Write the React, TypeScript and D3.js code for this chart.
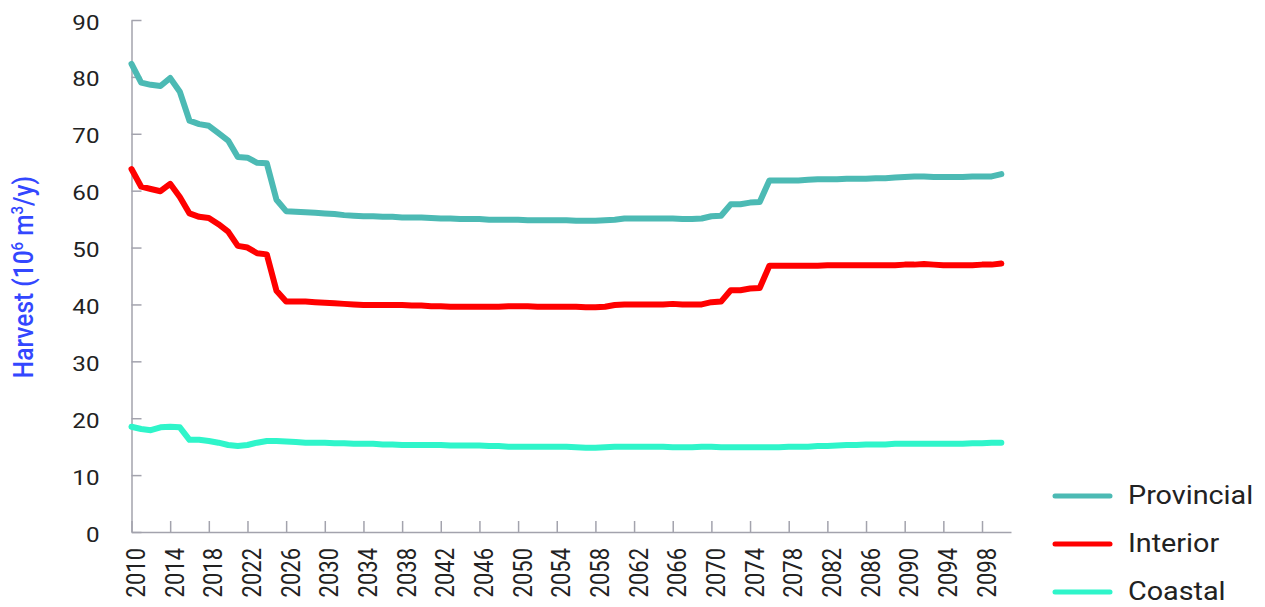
import * as d3 from "d3";
import React, { useRef, useEffect } from "react";

const width = 1265;
const height = 607;
const margin = { top: 20, right: 254, bottom: 75, left: 131.5 };

// years on the category axis
const years = d3.range(2010, 2101);
const xTickYears = d3.range(2010, 2100, 4);
const yTicks = [0, 10, 20, 30, 40, 50, 60, 70, 80, 90];

// harvest, 10^6 m3/y, one value per year 2010..2100
const provincial = [
  82.3, 79.0, 78.6, 78.4, 79.8, 77.4, 72.3, 71.7, 71.4, 70.1,
  68.8, 65.9, 65.8, 64.9, 64.8, 58.4, 56.4, 56.3, 56.2, 56.1,
  56.0, 55.9, 55.7, 55.6, 55.5, 55.5, 55.4, 55.4, 55.3, 55.3,
  55.3, 55.2, 55.1, 55.1, 55.0, 55.0, 55.0, 54.9, 54.9, 54.9,
  54.9, 54.8, 54.8, 54.8, 54.8, 54.8, 54.7, 54.7, 54.7, 54.8,
  54.9, 55.1, 55.1, 55.1, 55.1, 55.1, 55.1, 55.0, 55.0, 55.1,
  55.5, 55.6, 57.6, 57.6, 57.9, 58.0, 61.8, 61.8, 61.8, 61.8,
  61.9, 62.0, 62.0, 62.0, 62.1, 62.1, 62.1, 62.2, 62.2, 62.3,
  62.4, 62.5, 62.5, 62.4, 62.4, 62.4, 62.4, 62.5, 62.5, 62.5,
  62.9,
];
const interior = [
  63.8, 60.7, 60.3, 59.9, 61.2, 58.9, 56.0, 55.4, 55.2, 54.1,
  52.8, 50.3, 50.0, 49.0, 48.8, 42.4, 40.5, 40.5, 40.5, 40.4,
  40.3, 40.2, 40.1, 40.0, 39.9, 39.9, 39.9, 39.9, 39.9, 39.8,
  39.8, 39.7, 39.7, 39.6, 39.6, 39.6, 39.6, 39.6, 39.6, 39.7,
  39.7, 39.7, 39.6, 39.6, 39.6, 39.6, 39.6, 39.5, 39.5, 39.6,
  39.9, 40.0, 40.0, 40.0, 40.0, 40.0, 40.1, 40.0, 40.0, 40.0,
  40.4, 40.5, 42.5, 42.5, 42.8, 42.9, 46.8, 46.8, 46.8, 46.8,
  46.8, 46.8, 46.9, 46.9, 46.9, 46.9, 46.9, 46.9, 46.9, 46.9,
  47.0, 47.0, 47.1, 47.0, 46.9, 46.9, 46.9, 46.9, 47.0, 47.0,
  47.2,
];
const coastal = [
  18.5, 18.1, 17.9, 18.4, 18.5, 18.4, 16.2, 16.2, 16.0, 15.7,
  15.3, 15.1, 15.3, 15.7, 16.0, 16.0, 15.9, 15.8, 15.7, 15.7,
  15.7, 15.6, 15.6, 15.5, 15.5, 15.5, 15.4, 15.4, 15.3, 15.3,
  15.3, 15.3, 15.3, 15.2, 15.2, 15.2, 15.2, 15.1, 15.1, 15.0,
  15.0, 15.0, 15.0, 15.0, 15.0, 15.0, 14.9, 14.8, 14.8, 14.9,
  15.0, 15.0, 15.0, 15.0, 15.0, 15.0, 14.9, 14.9, 14.9, 15.0,
  15.0, 14.9, 14.9, 14.9, 14.9, 14.9, 14.9, 14.9, 15.0, 15.0,
  15.0, 15.1, 15.1, 15.2, 15.3, 15.3, 15.4, 15.4, 15.4, 15.5,
  15.5, 15.5, 15.5, 15.5, 15.5, 15.5, 15.5, 15.6, 15.6, 15.7,
  15.7,
];

const seriesNames = ["Provincial", "Interior", "Coastal"];
const seriesValues = [provincial, interior, coastal];
const seriesColors = ["#4cbab4", "#ff0000", "#2ff5ca"];

const font = "Roboto, 'Noto Sans', sans-serif";
const axisColor = "#a3a3ad";
const textColor = "#222222";
const stretch = 1.15; // text in the picture is a bit wide

const HarvestChart = () => {
  const svgRef = useRef<SVGSVGElement>(null);

  const xScale = d3
    .scaleLinear()
    .domain([2010, 2101])
    .range([margin.left, 1011]);
  const yScale = d3
    .scaleLinear()
    .domain([0, 90])
    .range([height - margin.bottom, margin.top]);

  useEffect(() => {
    if (!svgRef.current) return;
    const svg = d3.select(svgRef.current);
    svg.selectAll("*").remove();

    // y axis, ticks pointing in
    const yAxis = d3
      .axisLeft(yScale)
      .tickValues(yTicks)
      .tickSize(-10)
      .tickSizeOuter(0)
      .tickPadding(32);
    const gy = svg
      .append("g")
      .attr("transform", `translate(${margin.left},0)`)
      .call(yAxis);
    gy.select(".domain").attr("stroke", axisColor).attr("stroke-width", 1.5);
    gy.selectAll(".tick line").attr("stroke", axisColor).attr("stroke-width", 1.5);
    gy.selectAll(".tick text")
      .attr("fill", textColor)
      .style("font-family", font)
      .style("font-size", "21px")
      .attr("x", null)
      .attr("dy", null)
      .attr("transform", `translate(-32, 9) scale(${stretch}, 1)`);

    // x axis with rotated year labels
    const xAxis = d3
      .axisBottom(xScale)
      .tickValues(xTickYears)
      .tickSize(-11)
      .tickSizeOuter(0)
      .tickFormat(d3.format("d"));
    const gx = svg
      .append("g")
      .attr("transform", `translate(0,${height - margin.bottom})`)
      .call(xAxis);
    gx.select(".domain").attr("stroke", axisColor).attr("stroke-width", 1.5);
    gx.selectAll(".tick line").attr("stroke", axisColor).attr("stroke-width", 1.5);
    gx.selectAll(".tick text")
      .attr("fill", textColor)
      .style("font-family", font)
      .style("font-size", "22px")
      .attr("text-anchor", "end")
      .attr("x", 0)
      .attr("y", 0)
      .attr("dy", "0.36em")
      .attr("transform", `translate(4, 16) rotate(-90) scale(1, ${stretch})`);

    // y axis title
    const title = svg
      .append("text")
      .attr("transform", `translate(33, 277) rotate(-90) scale(1, ${stretch})`)
      .attr("text-anchor", "middle")
      .attr("fill", "#3347ff")
      .style("font-family", font)
      .style("font-size", "24.5px")
      .style("font-weight", 500);
    title.append("tspan").text("Harvest (10");
    title.append("tspan").text("6").attr("dy", -9).style("font-size", "15px");
    title.append("tspan").text(" m").attr("dy", 9);
    title.append("tspan").text("3").attr("dy", -9).style("font-size", "15px");
    title.append("tspan").text("/y)").attr("dy", 9);

    // lines
    const line = d3
      .line<number>()
      .x((d, i) => xScale(years[i]))
      .y((d) => yScale(d));

    svg
      .append("g")
      .selectAll("path")
      .data(seriesValues)
      .join("path")
      .attr("d", (d) => line(d))
      .attr("fill", "none")
      .attr("stroke", (d, i) => seriesColors[i])
      .attr("stroke-width", 6)
      .attr("stroke-linejoin", "round")
      .attr("stroke-linecap", "round");

    // legend
    const legend = svg
      .append("g")
      .selectAll("g")
      .data(seriesNames)
      .join("g")
      .attr("transform", (d, i) => `translate(1055, ${496 + i * 48})`);
    legend
      .append("line")
      .attr("x1", 0)
      .attr("x2", 55)
      .attr("stroke", (d, i) => seriesColors[i])
      .attr("stroke-width", 5)
      .attr("stroke-linecap", "round");
    legend
      .append("text")
      .attr("transform", `translate(73, 8) scale(${stretch}, 1)`)
      .attr("fill", textColor)
      .style("font-family", font)
      .style("font-size", "25px")
      .text((d) => d);
  }, []);

  return (
    <svg
      width={width}
      height={height}
      ref={svgRef}
      style={{ position: "absolute", left: 0, top: 0, background: "#fff" }}
    />
  );
};

export default function App() {
  return <HarvestChart />;
}
